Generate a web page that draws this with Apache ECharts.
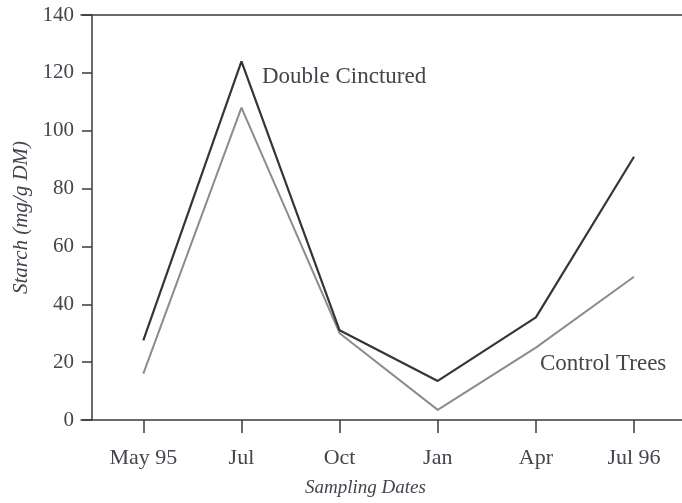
<!DOCTYPE html>
<html>
<head>
    <meta charset="utf-8">
    <script src="https://cdn.jsdelivr.net/npm/echarts@6/dist/echarts.min.js"></script>
    <style>
        html, body { margin: 0; padding: 0; background: #fff; }
    </style>
</head>
<body>
    <div id="chart" style="width: 682px;height:503px;"></div>
    <script type="text/javascript">
        // sampling dates (x categories)
        var dates = ['May 95', 'Jul', 'Oct', 'Jan', 'Apr', 'Jul 96'];
        // starch, mg/g DM
        var cinctured = [27.5, 124, 31, 13.5, 35.5, 91];
        var control = [16, 108, 30, 3.5, 25, 49.5];
        var yTicks = [0, 20, 40, 60, 80, 100, 120, 140];

        var idx = dates.map(function (d, i) { return i; });
        function pairs(arr) {
            return arr.map(function (v, i) { return [i, v]; });
        }

        var font = '"Liberation Serif", "DejaVu Serif", serif';
        var ink = '#47434c';
        var axisCol = '#3a3a3a';

        var myChart = echarts.init(document.getElementById('chart'));
        var option = {
            animation: false,
            backgroundColor: '#fff',
            grid: { left: 81, right: 0, top: 15, bottom: 83, outerBoundsMode: 'none', containLabel: false },
            xAxis: [{
                type: 'value',
                min: -0.635,
                max: 5.489,
                name: 'Sampling Dates',
                nameLocation: 'middle',
                nameGap: 58,
                nameTextStyle: { fontFamily: font, fontStyle: 'italic', fontSize: 19, color: ink, padding: [0, 32, 0, 0] },
                axisLine: { show: true, onZero: false, lineStyle: { color: axisCol, width: 1.5 } },
                axisTick: { show: true, length: 13, customValues: idx, lineStyle: { color: axisCol, width: 1.5 } },
                axisLabel: {
                    customValues: idx,
                    margin: 27,
                    fontFamily: font, fontSize: 22, color: ink,
                    formatter: function (v) { return dates[Math.round(v)]; }
                },
                splitLine: { show: false }
            }, {
                type: 'value',
                position: 'top',
                min: -0.635,
                max: 5.489,
                axisLine: { show: true, onZero: false, lineStyle: { color: axisCol, width: 1.5 } },
                axisTick: { show: false },
                axisLabel: { show: false },
                splitLine: { show: false }
            }],
            yAxis: {
                type: 'value',
                min: 0,
                max: 140,
                interval: 20,
                offset: -11,
                name: 'Starch (mg/g DM)',
                nameLocation: 'middle',
                nameGap: 58,
                nameTextStyle: { fontFamily: font, fontStyle: 'italic', fontSize: 21, color: ink },
                axisLine: { show: true, onZero: false, lineStyle: { color: axisCol, width: 1.5 } },
                axisTick: { show: true, length: 10, customValues: yTicks, lineStyle: { color: axisCol, width: 1.5 } },
                axisLabel: { margin: 18, fontFamily: font, fontSize: 21, color: ink },
                splitLine: { show: false }
            },
            series: [{
                name: 'Control Trees',
                type: 'line',
                data: pairs(control),
                symbol: 'none',
                lineStyle: { color: '#8c8c8c', width: 2 },
                z: 2
            }, {
                name: 'Double Cinctured',
                type: 'line',
                data: pairs(cinctured),
                symbol: 'none',
                lineStyle: { color: '#353535', width: 2.2 },
                z: 3
            }],
            graphic: [{
                type: 'text',
                x: 262,
                y: 77,
                style: { text: 'Double Cinctured', fontFamily: font, fontSize: 23, fill: ink, verticalAlign: 'middle' }
            }, {
                type: 'text',
                x: 540,
                y: 364,
                style: { text: 'Control Trees', fontFamily: font, fontSize: 23, fill: ink, verticalAlign: 'middle' }
            }]
        };
        myChart.setOption(option);
    </script>
</body>
</html>
